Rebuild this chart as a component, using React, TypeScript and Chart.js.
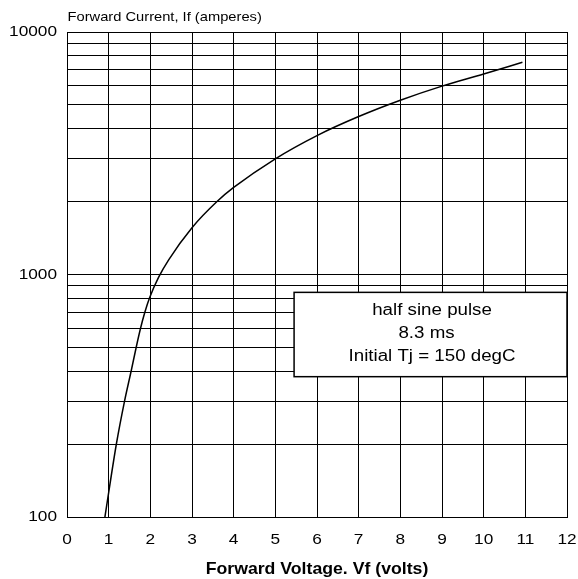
import React, { useEffect, useRef } from "react";
import { Chart, registerables } from "chart.js";

Chart.register(...registerables);

const voltage = [0.91, 1.185, 1.38, 1.54, 1.66, 1.765, 1.87, 1.98, 2.2, 2.44, 3, 3.6, 4, 5, 6, 7, 8, 9, 10, 10.93];
const current = [100, 200, 300, 400, 500, 600, 700, 800, 975, 1150, 1560, 2000, 2285, 3000, 3740, 4480, 5230, 5980, 6710, 7500];
const yTicks = [100, 200, 300, 400, 500, 600, 700, 800, 900, 1000, 2000, 3000, 4000, 5000, 6000, 7000, 8000, 9000, 10000];
const yLabels = [100, 1000, 10000];
const noteLines = ["half sine pulse", "8.3 ms", "Initial Tj = 150 degC"];
const noteBox = { x0: 5.45, x1: 12, yTop: 844, yBottom: 379 };
const xTitle = "Forward Voltage. Vf (volts)";
const yTitle = "Forward Current, If (amperes)";

const FONT = "'Liberation Sans', Arial, Helvetica, sans-serif";

// horizontal stretch of glyphs to match the reference's wide text
const stretchText = {
  id: "stretchText",
  beforeInit(chart: any) {
    const ctx = chart.ctx;
    const orig = ctx.fillText.bind(ctx);
    ctx.__sx = 1;
    ctx.fillText = (text: string, x: number, y: number, maxWidth?: number) => {
      const k = ctx.__sx || 1;
      if (k === 1) return maxWidth === undefined ? orig(text, x, y) : orig(text, x, y, maxWidth);
      ctx.save();
      ctx.translate(x, y);
      ctx.scale(k, 1);
      orig(text, 0, 0);
      ctx.restore();
    };
  },
  beforeDraw(chart: any) {
    chart.ctx.__sx = 1.15;
  },
};

const overlay = {
  id: "overlay",
  afterDraw(chart: any) {
    const { ctx, chartArea, scales } = chart;
    const xs = scales.x;
    const ys = scales.y;
    ctx.save();
    // annotation box
    const bx0 = xs.getPixelForValue(noteBox.x0);
    const bx1 = xs.getPixelForValue(noteBox.x1);
    const by0 = ys.getPixelForValue(noteBox.yTop);
    const by1 = ys.getPixelForValue(noteBox.yBottom);
    ctx.fillStyle = "#fff";
    ctx.fillRect(bx0, by0, bx1 - bx0, by1 - by0);
    ctx.strokeStyle = "#000";
    ctx.lineWidth = 1.5;
    ctx.strokeRect(bx0, by0, bx1 - bx0, by1 - by0);
    ctx.fillStyle = "#000";
    ctx.font = `16px ${FONT}`;
    ctx.textAlign = "center";
    ctx.textBaseline = "alphabetic";
    ctx.__sx = 1.17;
    const cx = (bx0 + bx1) / 2;
    const shifts = [1.5, -4, 1.5];
    noteLines.forEach((t, i) => {
      ctx.fillText(t, cx + shifts[i], by0 + 22.5 + i * 23.3);
    });
    // titles
    ctx.font = `13px ${FONT}`;
    ctx.textAlign = "left";
    ctx.__sx = 1.13;
    ctx.fillText(yTitle, chartArea.left + 0.5, 21);
    ctx.font = `bold 17px ${FONT}`;
    ctx.textAlign = "center";
    ctx.__sx = 1.04;
    ctx.fillText(xTitle, (chartArea.left + chartArea.right) / 2, 574);
    ctx.__sx = 1;
    ctx.restore();
  },
};

export default function App() {
  const ref = useRef<HTMLCanvasElement>(null);
  useEffect(() => {
    if (!ref.current) return;
    const chart = new Chart(ref.current, {
      type: "line",
      data: {
        datasets: [
          {
            data: voltage.map((v, i) => ({ x: v, y: current[i] })),
            borderColor: "#000",
            borderWidth: 1.5,
            pointRadius: 0,
            cubicInterpolationMode: "monotone",
            fill: false,
          },
        ],
      },
      options: {
        animation: false,
        responsive: true,
        maintainAspectRatio: false,
        layout: { padding: { top: 32, right: 11, left: 0, bottom: 0 } },
        plugins: { legend: { display: false }, tooltip: { enabled: false }, title: { display: false } },
        scales: {
          x: {
            type: "linear",
            min: 0,
            max: 12,
            ticks: { stepSize: 1, color: "#000", font: { size: 15, family: FONT }, padding: 14, maxRotation: 0, autoSkip: false },
            grid: { color: "#000", lineWidth: 1, drawTicks: false },
            border: { color: "#000", width: 1 },
            afterFit: (s: any) => {
              s.height = 62;
              s.paddingLeft = 0;
              s.paddingRight = 0;
            },
          },
          y: {
            type: "logarithmic",
            min: 100,
            max: 10000,
            afterBuildTicks: (s: any) => {
              s.ticks = yTicks.map((v) => ({ value: v }));
            },
            ticks: {
              color: "#000",
              font: { size: 15, family: FONT },
              padding: 10,
              autoSkip: false,
              callback: (v: any) => (yLabels.includes(Number(v)) ? String(v) : ""),
            },
            grid: { color: "#000", lineWidth: 1, drawTicks: false },
            border: { color: "#000", width: 1 },
            afterFit: (s: any) => {
              s.width = 67;
              s.paddingTop = 0;
              s.paddingBottom = 0;
            },
          },
        },
      },
      plugins: [stretchText, overlay],
    } as any);
    return () => chart.destroy();
  }, []);
  return (
    <div style={{ position: "fixed", left: 0, top: 0, width: 578, height: 579, background: "#fff" }}>
      <canvas ref={ref} />
    </div>
  );
}
